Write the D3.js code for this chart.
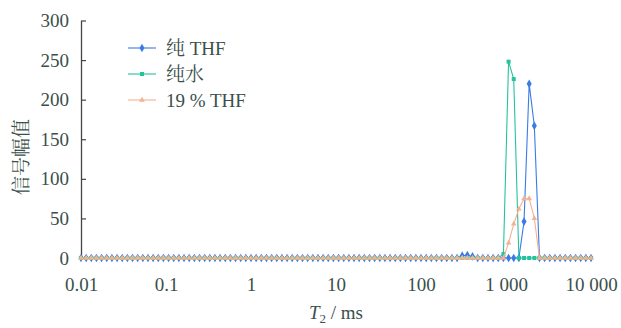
<!DOCTYPE html>
<html>
<head>
<meta charset="utf-8">
<script src="https://cdn.jsdelivr.net/npm/d3@7"></script>
<style>
  body { margin: 0; background: #fff; }
  text { font-family: "Liberation Serif", "Noto Serif CJK SC", "Noto Sans CJK SC", serif; fill: #3b4f4b; }
</style>
</head>
<body>
<div id="chart"></div>
<script>
// T2 grid (ms), 100 points log-spaced 0.01 .. 10000
const t2 = [
  0.01, 0.011498, 0.013219, 0.015199, 0.017475, 0.020092, 0.023101, 0.026561, 0.030539, 0.035112,
  0.04037, 0.046416, 0.053367, 0.061359, 0.070548, 0.081113, 0.09326, 0.10723, 0.12328, 0.14175,
  0.16298, 0.18738, 0.21544, 0.24771, 0.2848, 0.32745, 0.37649, 0.43288, 0.4977, 0.57224,
  0.65793, 0.75646, 0.86975, 1.0, 1.1498, 1.3219, 1.5199, 1.7475, 2.0092, 2.3101,
  2.6561, 3.0539, 3.5112, 4.037, 4.6416, 5.3367, 6.1359, 7.0548, 8.1113, 9.326,
  10.723, 12.328, 14.175, 16.298, 18.738, 21.544, 24.771, 28.48, 32.745, 37.649,
  43.288, 49.77, 57.224, 65.793, 75.646, 86.975, 100, 114.98, 132.19, 151.99,
  174.75, 200.92, 231.01, 265.61, 305.39, 351.12, 403.7, 464.16, 533.67, 613.59,
  705.48, 811.13, 932.6, 1072.3, 1232.8, 1417.5, 1629.8, 1873.8, 2154.4, 2477.1,
  2848.0, 3274.5, 3764.9, 4328.8, 4977.0, 5722.4, 6579.3, 7564.6, 8697.5, 10000
];

// 纯 THF
const pureTHF = [
  0,0,0,0,0,0,0,0,0,0,
  0,0,0,0,0,0,0,0,0,0,
  0,0,0,0,0,0,0,0,0,0,
  0,0,0,0,0,0,0,0,0,0,
  0,0,0,0,0,0,0,0,0,0,
  0,0,0,0,0,0,0,0,0,0,
  0,0,0,0,0,0,0,0,0,0,
  0,0,0,0,3,3.5,2,0,0,0,
  0,0,0,0,0,0,46,220,167,0,
  0,0,0,0,0,0,0,0,0,0
];

// 纯水
const pureWater = [
  0,0,0,0,0,0,0,0,0,0,
  0,0,0,0,0,0,0,0,0,0,
  0,0,0,0,0,0,0,0,0,0,
  0,0,0,0,0,0,0,0,0,0,
  0,0,0,0,0,0,0,0,0,0,
  0,0,0,0,0,0,0,0,0,0,
  0,0,0,0,0,0,0,0,0,0,
  0,0,0,0,0,0,0,0,0,0,
  0,0,5,248,226,0,0,0,0,0,
  0,0,0,0,0,0,0,0,0,0
];

// 19 % THF
const thf19 = [
  0,0,0,0,0,0,0,0,0,0,
  0,0,0,0,0,0,0,0,0,0,
  0,0,0,0,0,0,0,0,0,0,
  0,0,0,0,0,0,0,0,0,0,
  0,0,0,0,0,0,0,0,0,0,
  0,0,0,0,0,0,0,0,0,0,
  0,0,0,0,0,0,0,0,0,0,
  0,0,0,0,0,0,0,0,0,0,
  0,0,0,19,43,62,75,75,50,0,
  0,0,0,0,0,0,0,0,0,0
];

const seriesNames = ["纯 THF", "纯水", "19 % THF"];
const xTicks = [0.01, 0.1, 1, 10, 100, 1000, 10000];
const xTickLabels = ["0.01", "0.1", "1", "10", "100", "1 000", "10 000"];
const yTicks = [0, 50, 100, 150, 200, 250, 300];

const width = 621;
const height = 328;

const x = d3.scaleLog().domain([0.01, 10000]).range([81, 591]);
const y = d3.scaleLinear().domain([0, 300]).range([258, 20.5]);

const svg = d3.select("#chart")
    .append("svg")
    .attr("width", width)
    .attr("height", height);

// Y axis, ticks pointing inward
const yAxis = d3.axisLeft(y)
    .tickValues(yTicks)
    .tickSizeInner(-5)
    .tickSizeOuter(0)
    .tickPadding(12);

const gy = svg.append("g")
    .attr("transform", "translate(81,0)")
    .call(yAxis);
gy.select(".domain").attr("stroke", "#444").attr("stroke-width", 1.3);
gy.selectAll(".tick line").attr("stroke", "#444").attr("stroke-width", 1.2);
gy.selectAll(".tick text").attr("font-size", 19).attr("fill", "#3b4f4b")
    .attr("font-family", "Liberation Serif");

// X axis: labels only
const xAxis = d3.axisBottom(x)
    .tickValues(xTicks)
    .tickFormat((d, i) => xTickLabels[i])
    .tickSize(0)
    .tickPadding(0);

const gx = svg.append("g")
    .attr("transform", "translate(0,277)")
    .call(xAxis);
gx.select(".domain").remove();
gx.selectAll(".tick text").attr("font-size", 19).attr("fill", "#3b4f4b")
    .attr("font-family", "Liberation Serif");

// Axis titles
svg.append("text")
    .attr("transform", "translate(28,157) rotate(-90)")
    .attr("text-anchor", "middle")
    .attr("font-size", 19)
    .attr("fill", "#587270")
    .text("信号幅值");

const xt = svg.append("text")
    .attr("x", 336)
    .attr("y", 319)
    .attr("text-anchor", "middle")
    .attr("font-size", 19)
    .attr("fill", "#3b4f4b");
xt.append("tspan").attr("font-style", "italic").text("T");
xt.append("tspan").attr("font-size", 13).attr("dy", 4).text("2");
xt.append("tspan").attr("dy", -4).text(" / ms");

// Series
const colors = ["#3b7be6", "#25c39c", "#f6b193"];
const seriesData = [pureTHF, pureWater, thf19];

const line = d3.line()
    .x(d => x(d[0]))
    .y(d => y(d[1]));

const diamond = d3.symbol().type(d3.symbolDiamond).size(22);
const square = d3.symbol().type(d3.symbolSquare).size(16);
const triangle = d3.symbol().type(d3.symbolTriangle).size(14);
const symbols = [diamond, square, triangle];

seriesData.forEach((vals, s) => {
    const pts = vals.map((v, i) => [t2[i], v]);
    svg.append("path")
        .datum(pts)
        .attr("fill", "none")
        .attr("stroke", colors[s])
        .attr("stroke-width", 1.1)
        .attr("d", line);
    svg.append("g")
        .selectAll("path")
        .data(pts)
        .enter()
        .append("path")
        .attr("transform", d => `translate(${x(d[0])},${y(d[1])})`)
        .attr("d", symbols[s]())
        .attr("fill", colors[s]);
});

// Legend
const legendY = [48, 74, 100];
seriesNames.forEach((name, s) => {
    const g = svg.append("g").attr("transform", `translate(0,${legendY[s]})`);
    g.append("line")
        .attr("x1", 128).attr("x2", 156)
        .attr("stroke", colors[s]).attr("stroke-width", 1.1);
    g.append("path")
        .attr("transform", "translate(142,0)")
        .attr("d", symbols[s]())
        .attr("fill", colors[s]);
    g.append("text")
        .attr("x", 166)
        .attr("y", 6.5)
        .attr("font-size", 19)
        .attr("fill", "#3b4f4b")
        .text(name);
});
</script>
</body>
</html>
